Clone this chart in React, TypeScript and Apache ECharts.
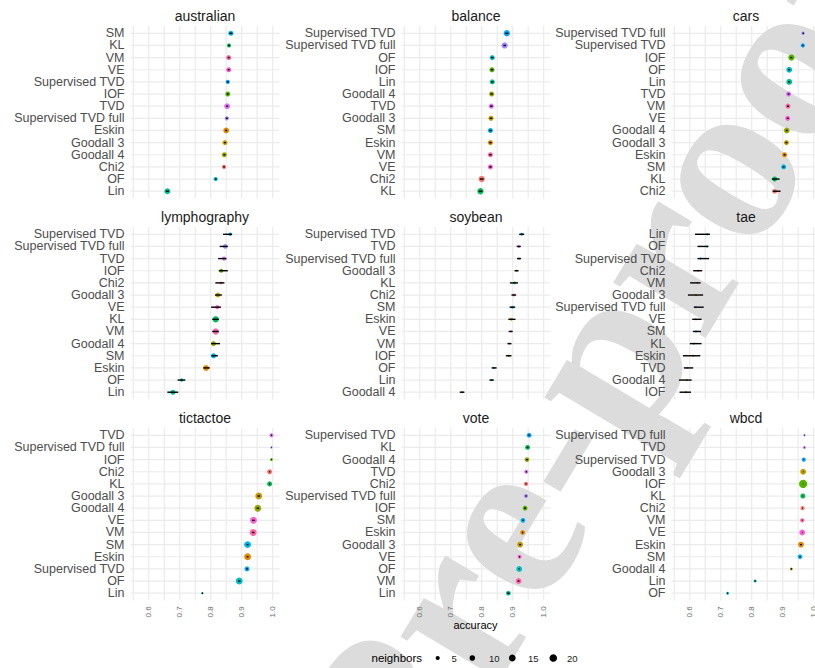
import React, { useEffect, useRef } from 'react';
import * as echarts from 'echarts';

// ---------- data ----------
const METHOD_LEVELS = ['Chi2', 'Eskin', 'Goodall 3', 'Goodall 4', 'IOF', 'KL', 'Lin', 'OF', 'SM', 'Supervised TVD', 'Supervised TVD full', 'TVD', 'VE', 'VM'];
const HUE_COLORS = ['#F8766D', '#E38900', '#C49A00', '#99A800', '#53B400', '#00BC56', '#00C094', '#00BFC4', '#00B6EB', '#06A4FF', '#A58AFF', '#DF70F8', '#FB61D7', '#FF66A8'];

const X_TICKS = [0.6, 0.7, 0.8, 0.9, 1.0];
const X_GRID = [0.55, 0.6, 0.65, 0.7, 0.75, 0.8, 0.85, 0.9, 0.95, 1.0];
const X_MIN = 0.541;
const X_MAX = 1.022;
const LEGEND_BREAKS = [5, 10, 15, 20];

const PANEL_NAMES = ['australian', 'balance', 'cars', 'lymphography', 'soybean', 'tae', 'tictactoe', 'vote', 'wbcd'];

const AUS_METHODS = ['SM', 'KL', 'VM', 'VE', 'Supervised TVD', 'IOF', 'TVD', 'Supervised TVD full', 'Eskin', 'Goodall 3', 'Goodall 4', 'Chi2', 'OF', 'Lin'];
const AUS_ACC = [0.865, 0.859, 0.858, 0.858, 0.855, 0.855, 0.853, 0.852, 0.850, 0.846, 0.844, 0.843, 0.816, 0.660];
const AUS_NB = [8, 5, 8, 8, 5, 8, 11, 5, 11, 8, 8, 5, 5, 11];
const AUS_LO = [0.860, 0.856, 0.855, 0.855, 0.852, 0.852, 0.850, 0.849, 0.847, 0.843, 0.841, 0.840, 0.813, 0.655];
const AUS_HI = [0.870, 0.862, 0.861, 0.861, 0.858, 0.858, 0.856, 0.855, 0.853, 0.849, 0.847, 0.846, 0.819, 0.665];

const BAL_METHODS = ['Supervised TVD', 'Supervised TVD full', 'OF', 'IOF', 'Lin', 'Goodall 4', 'TVD', 'Goodall 3', 'SM', 'Eskin', 'VM', 'VE', 'Chi2', 'KL'];
const BAL_ACC = [0.881, 0.874, 0.834, 0.833, 0.834, 0.832, 0.831, 0.830, 0.828, 0.828, 0.828, 0.828, 0.800, 0.796];
const BAL_NB = [13, 13, 8, 8, 8, 8, 8, 8, 8, 8, 8, 8, 13, 13];
const BAL_LO = [0.876, 0.870, 0.830, 0.829, 0.830, 0.828, 0.827, 0.826, 0.824, 0.824, 0.824, 0.824, 0.794, 0.790];
const BAL_HI = [0.886, 0.878, 0.838, 0.837, 0.838, 0.836, 0.835, 0.834, 0.832, 0.832, 0.832, 0.832, 0.806, 0.802];

const CAR_METHODS = ['Supervised TVD full', 'Supervised TVD', 'IOF', 'OF', 'Lin', 'TVD', 'VM', 'VE', 'Goodall 4', 'Goodall 3', 'Eskin', 'SM', 'KL', 'Chi2'];
const CAR_ACC = [0.966, 0.965, 0.928, 0.921, 0.921, 0.919, 0.917, 0.916, 0.913, 0.912, 0.906, 0.903, 0.874, 0.874];
const CAR_NB = [3, 5, 13, 11, 11, 8, 8, 8, 11, 8, 8, 8, 8, 7];
const CAR_LO = [0.964, 0.963, 0.925, 0.918, 0.918, 0.916, 0.914, 0.913, 0.910, 0.909, 0.903, 0.900, 0.865, 0.868];
const CAR_HI = [0.968, 0.967, 0.931, 0.924, 0.924, 0.922, 0.920, 0.919, 0.916, 0.915, 0.909, 0.906, 0.890, 0.893];

const LYM_METHODS = ['Supervised TVD', 'Supervised TVD full', 'TVD', 'IOF', 'Chi2', 'Goodall 3', 'VE', 'KL', 'VM', 'Goodall 4', 'SM', 'Eskin', 'OF', 'Lin'];
const LYM_ACC = [0.863, 0.847, 0.843, 0.834, 0.833, 0.823, 0.821, 0.816, 0.816, 0.809, 0.809, 0.785, 0.706, 0.678];
const LYM_NB = [3, 7, 5, 5, 2, 7, 5, 13, 13, 8, 8, 11, 3, 8];
const LYM_LO = [0.840, 0.829, 0.824, 0.826, 0.815, 0.814, 0.801, 0.805, 0.805, 0.801, 0.802, 0.776, 0.693, 0.660];
const LYM_HI = [0.869, 0.855, 0.851, 0.855, 0.844, 0.836, 0.833, 0.826, 0.826, 0.830, 0.823, 0.797, 0.718, 0.695];

const SOY_METHODS = ['Supervised TVD', 'TVD', 'Supervised TVD full', 'Goodall 3', 'KL', 'Chi2', 'SM', 'Eskin', 'VE', 'VM', 'IOF', 'OF', 'Lin', 'Goodall 4'];
const SOY_ACC = [0.929, 0.920, 0.921, 0.912, 0.906, 0.904, 0.899, 0.896, 0.894, 0.890, 0.887, 0.839, 0.832, 0.737];
const SOY_NB = [2, 2, 1, 1, 2, 2, 2, 2, 1, 1, 1, 1, 1, 1];
const SOY_LO = [0.921, 0.913, 0.914, 0.906, 0.891, 0.896, 0.890, 0.886, 0.887, 0.883, 0.878, 0.832, 0.825, 0.729];
const SOY_HI = [0.937, 0.926, 0.927, 0.919, 0.917, 0.911, 0.908, 0.909, 0.900, 0.896, 0.896, 0.848, 0.839, 0.744];

const TAE_METHODS = ['Lin', 'OF', 'Supervised TVD', 'Chi2', 'VM', 'Goodall 3', 'Supervised TVD full', 'VE', 'SM', 'KL', 'Eskin', 'TVD', 'Goodall 4', 'IOF'];
const TAE_ACC = [0.657, 0.656, 0.635, 0.627, 0.624, 0.620, 0.619, 0.620, 0.620, 0.613, 0.611, 0.592, 0.591, 0.588];
const TAE_NB = [1, 1, 1, 1, 1, 1, 1, 1, 1, 1, 1, 1, 1, 1];
const TAE_LO = [0.617, 0.625, 0.625, 0.611, 0.601, 0.594, 0.613, 0.608, 0.610, 0.600, 0.578, 0.581, 0.565, 0.567];
const TAE_HI = [0.665, 0.660, 0.662, 0.640, 0.635, 0.643, 0.645, 0.638, 0.636, 0.638, 0.634, 0.611, 0.606, 0.604];

const TIC_METHODS = ['TVD', 'Supervised TVD full', 'IOF', 'Chi2', 'KL', 'Goodall 3', 'Goodall 4', 'VE', 'VM', 'SM', 'Eskin', 'Supervised TVD', 'OF', 'Lin'];
const TIC_ACC = [0.996, 0.996, 0.996, 0.990, 0.990, 0.955, 0.952, 0.938, 0.937, 0.919, 0.919, 0.917, 0.892, 0.773];
const TIC_NB = [5, 1, 2, 8, 8, 16, 16, 16, 16, 16, 16, 8, 16, 1];
const TIC_LO = [0.994, 0.995, 0.995, 0.988, 0.988, 0.951, 0.948, 0.934, 0.933, 0.916, 0.916, 0.914, 0.888, 0.771];
const TIC_HI = [0.998, 0.997, 0.997, 0.992, 0.992, 0.959, 0.956, 0.942, 0.941, 0.922, 0.922, 0.920, 0.896, 0.775];

const VOT_METHODS = ['Supervised TVD', 'KL', 'Goodall 4', 'TVD', 'Chi2', 'Supervised TVD full', 'IOF', 'SM', 'Eskin', 'Goodall 3', 'VE', 'OF', 'VM', 'Lin'];
const VOT_ACC = [0.953, 0.948, 0.946, 0.944, 0.943, 0.943, 0.940, 0.933, 0.932, 0.924, 0.922, 0.921, 0.919, 0.886];
const VOT_NB = [7, 7, 7, 5, 5, 5, 7, 7, 7, 11, 5, 11, 11, 7];
const VOT_LO = [0.951, 0.945, 0.943, 0.942, 0.941, 0.941, 0.937, 0.931, 0.930, 0.921, 0.920, 0.919, 0.916, 0.882];
const VOT_HI = [0.955, 0.951, 0.949, 0.946, 0.945, 0.945, 0.943, 0.935, 0.934, 0.927, 0.924, 0.923, 0.922, 0.890];

const WBC_METHODS = ['Supervised TVD full', 'TVD', 'Supervised TVD', 'Goodall 3', 'IOF', 'KL', 'Chi2', 'VM', 'VE', 'Eskin', 'SM', 'Goodall 4', 'Lin', 'OF'];
const WBC_ACC = [0.970, 0.970, 0.968, 0.966, 0.966, 0.965, 0.964, 0.963, 0.963, 0.959, 0.956, 0.928, 0.811, 0.722];
const WBC_NB = [1, 2, 5, 11, 23, 8, 5, 5, 11, 11, 7, 2, 2, 2];
const WBC_LO = [0.969, 0.969, 0.967, 0.965, 0.965, 0.964, 0.963, 0.962, 0.962, 0.956, 0.954, 0.926, 0.809, 0.720];
const WBC_HI = [0.971, 0.971, 0.969, 0.967, 0.967, 0.966, 0.965, 0.964, 0.964, 0.962, 0.958, 0.930, 0.813, 0.724];

const PANEL_DATA = [
  [AUS_METHODS, AUS_ACC, AUS_NB, AUS_LO, AUS_HI],
  [BAL_METHODS, BAL_ACC, BAL_NB, BAL_LO, BAL_HI],
  [CAR_METHODS, CAR_ACC, CAR_NB, CAR_LO, CAR_HI],
  [LYM_METHODS, LYM_ACC, LYM_NB, LYM_LO, LYM_HI],
  [SOY_METHODS, SOY_ACC, SOY_NB, SOY_LO, SOY_HI],
  [TAE_METHODS, TAE_ACC, TAE_NB, TAE_LO, TAE_HI],
  [TIC_METHODS, TIC_ACC, TIC_NB, TIC_LO, TIC_HI],
  [VOT_METHODS, VOT_ACC, VOT_NB, VOT_LO, VOT_HI],
  [WBC_METHODS, WBC_ACC, WBC_NB, WBC_LO, WBC_HI],
] as any[];

// ---------- layout ----------
const COL_LEFT = [130.5, 401.5, 671.5];
const PANEL_W = 149;
const ROW_TOP = [26, 227, 428];
const PANEL_H = 172.5;
const FONT = '"Liberation Sans", Arial, Helvetica, sans-serif';

const sizeOf = (n: number) => 0.7 + 1.55 * Math.sqrt(n);
const colorOf = (m: string) => HUE_COLORS[METHOD_LEVELS.indexOf(m)];

function buildOption() {
  const grid: any[] = [];
  const xAxis: any[] = [];
  const yAxis: any[] = [];
  const series: any[] = [];
  const graphic: any[] = [];

  PANEL_NAMES.forEach((name, i) => {
    const r = Math.floor(i / 3);
    const c = i % 3;
    const [methods, acc, nb, lo, hi] = PANEL_DATA[i];
    const n = methods.length;
    const u = PANEL_H / (n + 0.2);
    const top = ROW_TOP[r] + 0.1 * u;
    grid.push({ left: COL_LEFT[c], top, width: PANEL_W, height: n * u, containLabel: false, outerBoundsMode: 'none' });
    xAxis.push({
      gridIndex: i, type: 'value', min: X_MIN, max: X_MAX, z: 10,
      axisLine: { show: false }, axisTick: { show: false }, splitLine: { show: false },
      axisLabel: r === 2
        ? { show: true, customValues: X_TICKS, rotate: 90, fontSize: 8, color: '#6e6e6e', margin: 7, fontFamily: FONT, formatter: (v: number) => v.toFixed(1) }
        : { show: false },
    });
    yAxis.push({
      gridIndex: i, type: 'category', data: methods, inverse: true, boundaryGap: true, z: 10,
      axisLine: { show: false }, axisTick: { show: false }, splitLine: { show: false },
      axisLabel: { interval: 0, fontSize: 12.5, lineHeight: 11, color: '#4d4d4d', margin: 6, fontFamily: FONT },
    });
    // panel grid lines
    series.push({
      type: 'custom', xAxisIndex: i, yAxisIndex: i, z: 0, silent: true, clip: false,
      data: [[X_MIN, 0]],
      renderItem: (params: any, api: any) => {
        const cs = params.coordSys;
        const band = cs.height / n;
        const ext = 0.1 * band;
        const children: any[] = [];
        X_GRID.forEach((v) => {
          const x = api.coord([v, 0])[0];
          children.push({ type: 'line', shape: { x1: x, y1: cs.y - ext, x2: x, y2: cs.y + cs.height + ext }, style: { stroke: '#ebebeb', lineWidth: 1.2 } });
        });
        for (let k = 0; k < n; k++) {
          const y = api.coord([X_MIN, k])[1];
          children.push({ type: 'line', shape: { x1: cs.x, y1: y, x2: cs.x + cs.width, y2: y }, style: { stroke: '#ebebeb', lineWidth: 1.2 } });
        }
        return { type: 'group', children };
      },
    });
    series.push({
      type: 'scatter', xAxisIndex: i, yAxisIndex: i, z: 3, silent: true,
      data: methods.map((m: string, k: number) => ({ value: [acc[k], k, nb[k]], itemStyle: { color: colorOf(m), opacity: 1 } })),
      symbolSize: (v: number[]) => sizeOf(v[2]),
    });
    series.push({
      type: 'custom', xAxisIndex: i, yAxisIndex: i, z: 4, silent: true, clip: false,
      encode: { x: [0, 2], y: 1 },
      data: methods.map((m: string, k: number) => [lo[k], k, hi[k]]),
      renderItem: (params: any, api: any) => {
        const a = api.coord([api.value(0), api.value(1)]);
        const b = api.coord([api.value(2), api.value(1)]);
        return { type: 'line', shape: { x1: a[0], y1: a[1], x2: b[0], y2: b[1] }, style: { stroke: '#000', lineWidth: 1.4 } };
      },
    });
    graphic.push({
      type: 'text', z: 10, x: COL_LEFT[c] + PANEL_W / 2, y: ROW_TOP[r] - 10.3,
      style: { text: name, align: 'center', verticalAlign: 'middle', fontSize: 14, fill: '#1a1a1a', fontFamily: FONT },
    });
  });

  graphic.push({
    type: 'text', z: 10, x: (COL_LEFT[0] + COL_LEFT[2] + PANEL_W) / 2, y: 625,
    style: { text: 'accuracy', align: 'center', verticalAlign: 'middle', fontSize: 11, fill: '#000', fontFamily: FONT },
  });
  graphic.push({
    type: 'text', z: 10, x: 371.5, y: 657.5,
    style: { text: 'neighbors', align: 'left', verticalAlign: 'middle', fontSize: 11.5, fill: '#000', fontFamily: FONT },
  });
  const LEG_DOT_X = [437.7, 472.3, 512.3, 553.3];
  const LEG_TXT_X = [451.5, 489, 528, 567];
  LEGEND_BREAKS.forEach((b, k) => {
    graphic.push({ type: 'circle', z: 10, shape: { cx: LEG_DOT_X[k], cy: 658, r: sizeOf(b) / 2 }, style: { fill: '#000' } });
    graphic.push({
      type: 'text', z: 10, x: LEG_TXT_X[k], y: 658,
      style: { text: String(b), align: 'left', verticalAlign: 'middle', fontSize: 9.5, fill: '#1a1a1a', fontFamily: FONT },
    });
  });
  // watermark (text starts at the lower left, rotated about its start)
  graphic.push({
    type: 'text', z: 1, x: 348, y: 780, rotation: (59 * Math.PI) / 180, silent: true,
    style: { text: 'Pre-proof', align: 'left', verticalAlign: 'middle', fontSize: 235, fontWeight: 'bold', fill: '#dcdcdc', fontFamily: '"Liberation Serif", "Times New Roman", serif' },
  });

  return {
    animation: false,
    backgroundColor: '#ffffff',
    textStyle: { fontFamily: FONT },
    grid, xAxis, yAxis, series, graphic,
  };
}

export default function App() {
  const ref = useRef<HTMLDivElement>(null);
  useEffect(() => {
    if (!ref.current) return;
    const chart = echarts.init(ref.current, undefined, { renderer: 'svg' });
    chart.setOption(buildOption() as any);
    return () => chart.dispose();
  }, []);
  return <div ref={ref} style={{ position: 'absolute', left: 0, top: 0, width: 815, height: 668 }} />;
}
